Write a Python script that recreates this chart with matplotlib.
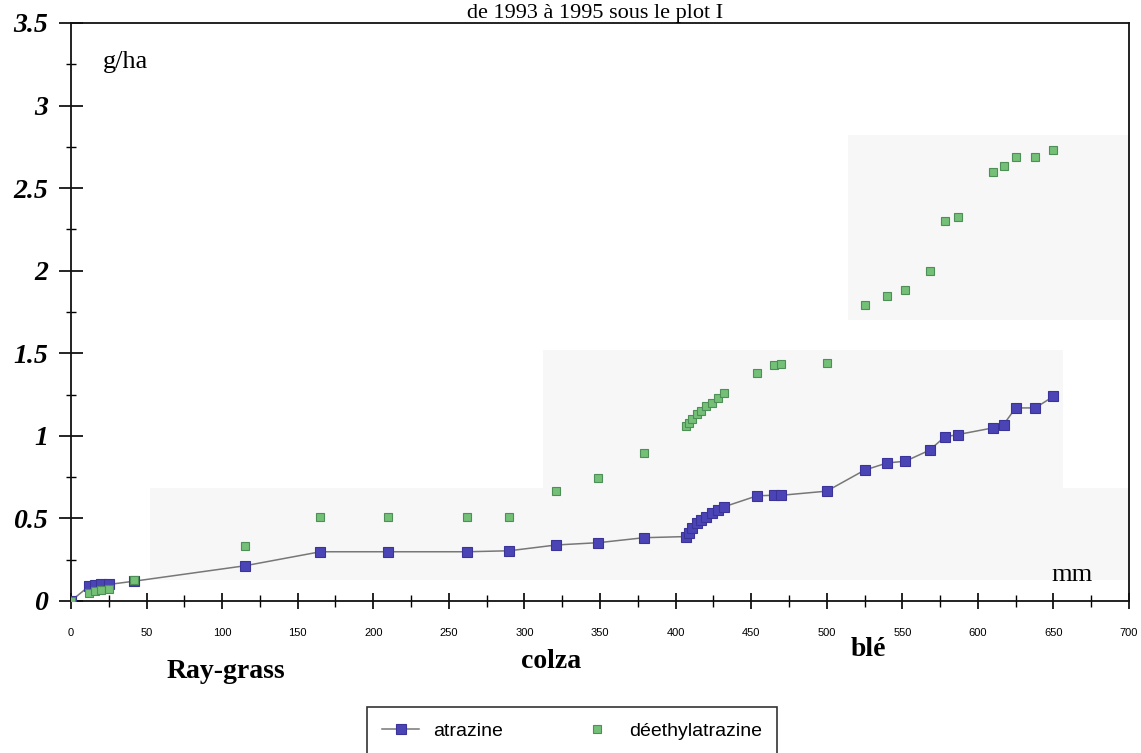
import matplotlib.pyplot as plt
from matplotlib.patches import Rectangle
from matplotlib.ticker import MultipleLocator

# cumulative drainage (mm) and cumulative losses (g/ha)
pluie_mm = [0, 12, 16, 20, 25, 42, 115, 165, 210, 262, 290, 321, 349, 379,
            407, 409, 411, 414, 417, 420, 424, 428, 432,
            454, 465, 470, 500, 525, 540, 552, 568, 578, 587, 610, 617, 625, 638, 650]
atrazine = [0, 0.09, 0.095, 0.10, 0.10, 0.12, 0.213, 0.298, 0.298, 0.298, 0.304, 0.339, 0.353, 0.383,
            0.39, 0.41, 0.44, 0.47, 0.49, 0.51, 0.53, 0.55, 0.57,
            0.637, 0.64, 0.64, 0.665, 0.792, 0.836, 0.846, 0.913, 0.993, 1.008, 1.048, 1.068, 1.169, 1.169, 1.239]
deethyl = [0, 0.05, 0.06, 0.065, 0.07, 0.13, 0.33, 0.51, 0.51, 0.51, 0.51, 0.667, 0.745, 0.897,
           1.06, 1.08, 1.10, 1.13, 1.15, 1.18, 1.20, 1.23, 1.26,
           1.383, 1.427, 1.437, 1.443, 1.794, 1.846, 1.884, 2.001, 2.303, 2.323, 2.596, 2.636, 2.69, 2.69, 2.73]

cultures = ["Ray-grass", "colza", "blé"]

serif = "Liberation Serif"
sans = "Liberation Sans"

fig = plt.figure(figsize=(11.41, 7.53), dpi=100)
ax = fig.add_axes([0.0622, 0.2019, 0.9273, 0.7676])

# faint grey scan patches behind the data
for (x0, y0, w, h) in [(52, 0.127, 648, 0.556), (312, 0.683, 344, 0.834), (514, 1.70, 186, 1.12)]:
    ax.add_patch(Rectangle((x0, y0), w, h, facecolor="#f7f7f7", edgecolor="none", zorder=0))

ax.plot(pluie_mm, atrazine, color="#777777", lw=1.1, marker="s", ms=6.5,
        mfc="#4b44b6", mec="#3a3499", mew=0.8, label="atrazine", zorder=3)
ax.plot(pluie_mm, deethyl, ls="none", marker="s", ms=5.5,
        mfc="#74c077", mec="#4d8f57", mew=0.8, label="déethylatrazine", zorder=3)

ax.set_xlim(0, 700)
ax.set_ylim(0, 3.5)
ax.xaxis.set_major_locator(MultipleLocator(50))
ax.xaxis.set_minor_locator(MultipleLocator(25))
ax.yaxis.set_major_locator(MultipleLocator(0.5))
ax.yaxis.set_minor_locator(MultipleLocator(0.25))

for s in ax.spines.values():
    s.set_linewidth(1.3)
    s.set_color("#111111")

ax.tick_params(axis="x", which="major", direction="inout", length=11, width=1.2, pad=14,
               labelsize=8)
ax.tick_params(axis="x", which="minor", direction="inout", length=9, width=1.0)
ax.tick_params(axis="y", which="major", direction="inout", length=17, width=1.2, pad=8)
ax.tick_params(axis="y", which="minor", direction="inout", length=7, width=1.0)

for lab in ax.get_xticklabels():
    lab.set_fontfamily(sans)
ax.set_yticks([0, 0.5, 1, 1.5, 2, 2.5, 3, 3.5])
ax.set_yticklabels(["0", "0.5", "1", "1.5", "2", "2.5", "3", "3.5"],
                   fontfamily=serif, fontstyle="italic", fontweight="bold", fontsize=20)

ax.text(0.03, 0.922, "g/ha", transform=ax.transAxes, fontfamily=serif, fontsize=19)
ax.text(0.927, 0.035, "mm", transform=ax.transAxes, fontfamily=serif, fontsize=19)

fig.text(595 / 1141, 1 - 18 / 753, "de 1993 à 1995 sous le plot I", ha="center", va="baseline",
         fontfamily=serif, fontsize=16)

for nom, (xf, yf) in zip(cultures, [(226, 672), (551, 662), (868, 650)]):
    fig.text(xf / 1141, 1 - yf / 753, nom, ha="center", va="center",
             fontfamily=serif, fontweight="bold", fontsize=20)

leg = fig.legend(loc="upper center", bbox_to_anchor=(572 / 1141, 1 - 707 / 753), ncol=2,
                 prop={"family": sans, "size": 14}, frameon=True, fancybox=False,
                 edgecolor="black", borderpad=0.8, columnspacing=3.9, handlelength=1.9,
                 handletextpad=0.7, borderaxespad=0)
leg.get_frame().set_linewidth(1.2)

fig.savefig("out.png", dpi=100)
